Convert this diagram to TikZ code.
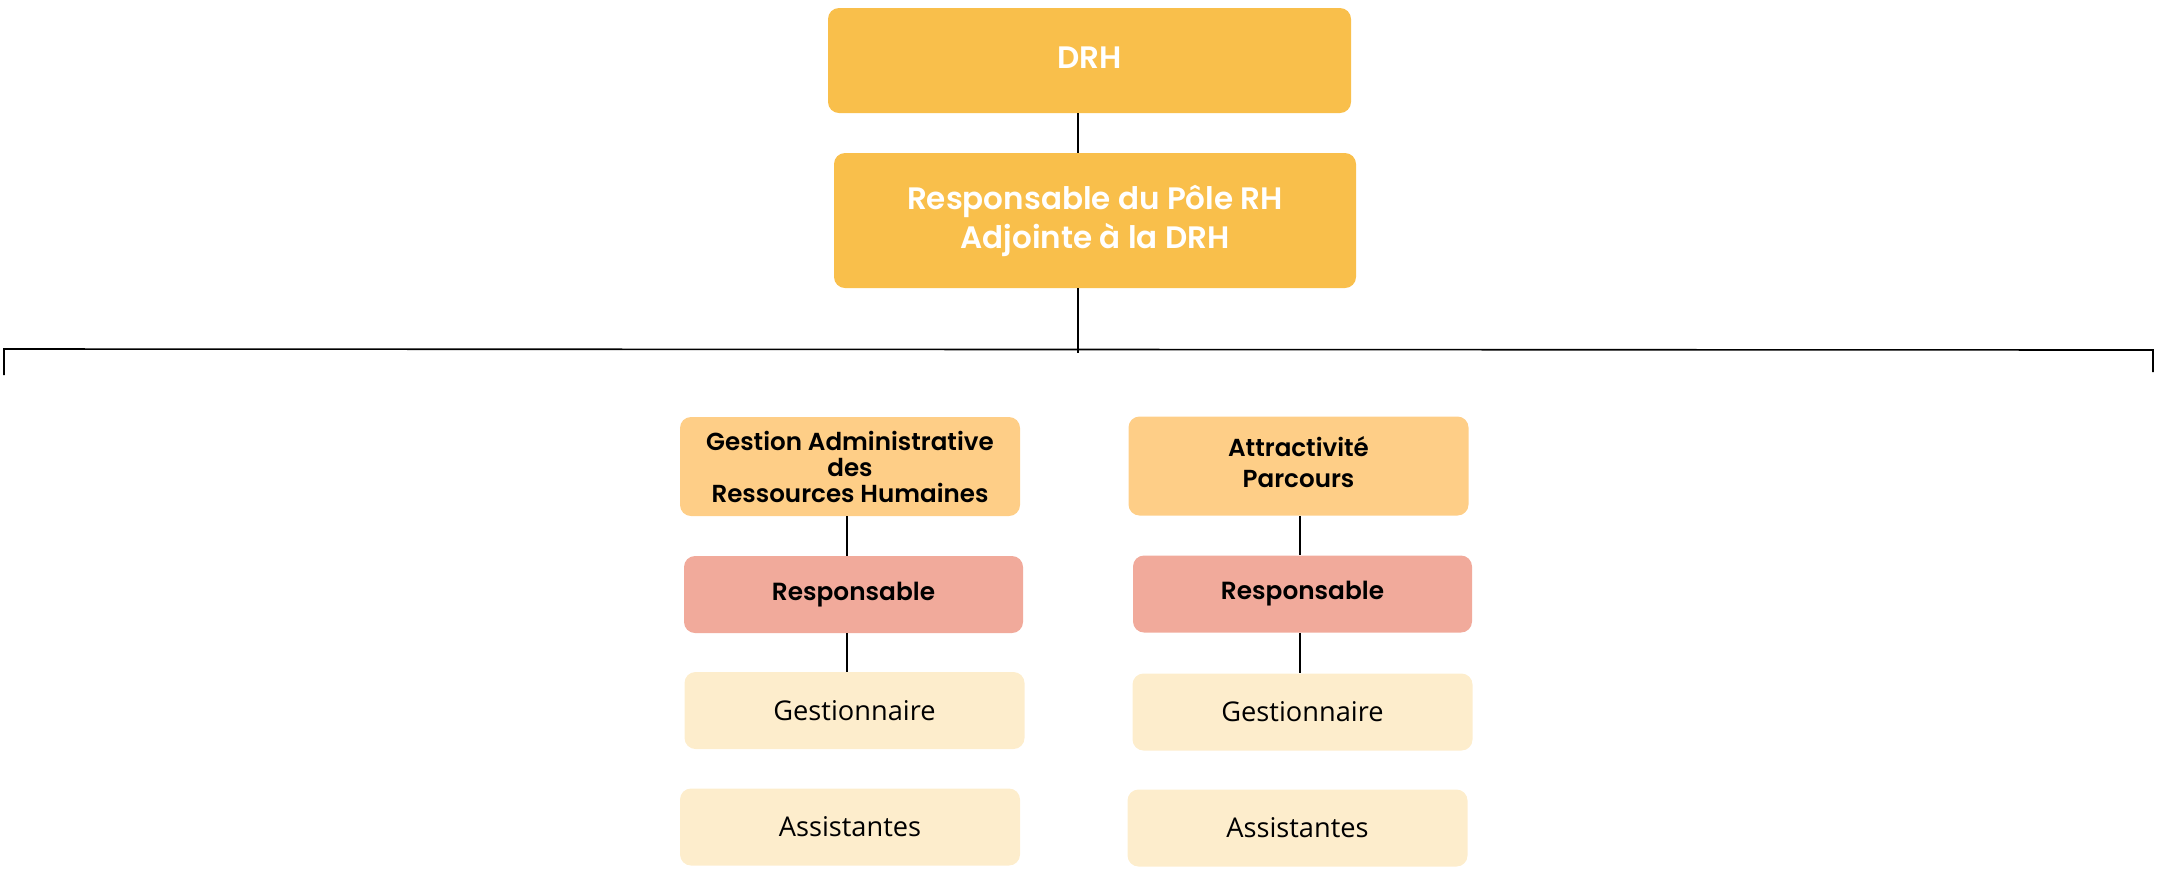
\documentclass[tikz,border=0pt]{standalone}
\usepackage{fontspec}
\setmainfont{Open Sans}
\newfontfamily\popfont{Poppins}[BoldFont={Poppins SemiBold}]
\usetikzlibrary{positioning}
\definecolor{drhorange}{HTML}{F9BF4B}
\definecolor{poleorange}{HTML}{FECE87}
\definecolor{respsalmon}{HTML}{F1AA9B}
\definecolor{postcream}{HTML}{FDEDCC}

\begin{document}
\begin{tikzpicture}[x=0.5pt, y=-0.5pt,
  box/.style={rounded corners=5.5pt, inner sep=0pt, align=center},
  topbox/.style={box, fill=drhorange, text=white,
    font=\popfont\bfseries\fontsize{15.5}{19.5}\selectfont},
  polebox/.style={box, fill=poleorange, minimum width=170pt, minimum height=49.5pt,
    font=\popfont\bfseries\fontsize{12.3}{13}\selectfont},
  respbox/.style={box, fill=respsalmon, minimum width=169.5pt, minimum height=38.5pt,
    font=\popfont\bfseries\fontsize{12.4}{14}\selectfont},
  postbox/.style={box, fill=postcream, minimum width=170pt, minimum height=38.5pt,
    font=\fontsize{13.6}{15}\selectfont},
  link/.style={draw=black, line width=0.8pt}]

  \useasboundingbox (0,0) rectangle (2179,875);

  \node[topbox, minimum width=261.5pt, minimum height=52.5pt] (drh) at (1089.5,60.5)
    {\raisebox{2.8pt}{DRH}};
  \node[topbox, minimum width=261pt, minimum height=67.5pt] (rpole) at (1095,220.5)
    {Responsable du Pôle RH\\Adjointe à la DRH};

  \node[polebox] (gestadm) at (850,466.5)
    {Gestion Administrative\\des\\Ressources Humaines};
  \node[respbox] (respL) at (853.5,594.5) {Responsable};
  \node[postbox] (gestL) at (854.5,710.5) {Gestionnaire};
  \node[postbox] (assL) at (850,827) {Assistantes};

  \node[polebox, font=\popfont\bfseries\fontsize{12.3}{15.5}\selectfont] (attract)
    at (1298.5,466) {\raisebox{2pt}{\begin{tabular}{@{}c@{}}Attractivité\\Parcours\end{tabular}}};
  \node[respbox] (respR) at (1302.5,594) {Responsable};
  \node[postbox] (gestR) at (1302.5,712) {Gestionnaire};
  \node[postbox] (assR) at (1297.5,828) {Assistantes};

  \coordinate (spine) at (1078,0);
  \coordinate (hub) at (1078,353);
  \coordinate (lcol) at (847,0);
  \coordinate (rcol) at (1300,0);
  \coordinate (bl) at (4,375);
  \coordinate (tl) at (4,349);
  \coordinate (tr) at (2153,350);
  \coordinate (br) at (2153,372);

  \draw[link] (drh.south -| spine) -- (rpole.north -| spine);
  \draw[link] (rpole.south -| spine) -- (hub);
  \draw[link] (bl) -- (tl) -- (tr) -- (br);

  \draw[link] (gestadm.south -| lcol) -- (respL.north -| lcol);
  \draw[link] (respL.south -| lcol) -- (gestL.north -| lcol);
  \draw[link] (attract.south -| rcol) -- (respR.north -| rcol);
  \draw[link] (respR.south -| rcol) -- (gestR.north -| rcol);

\end{tikzpicture}
\end{document}
